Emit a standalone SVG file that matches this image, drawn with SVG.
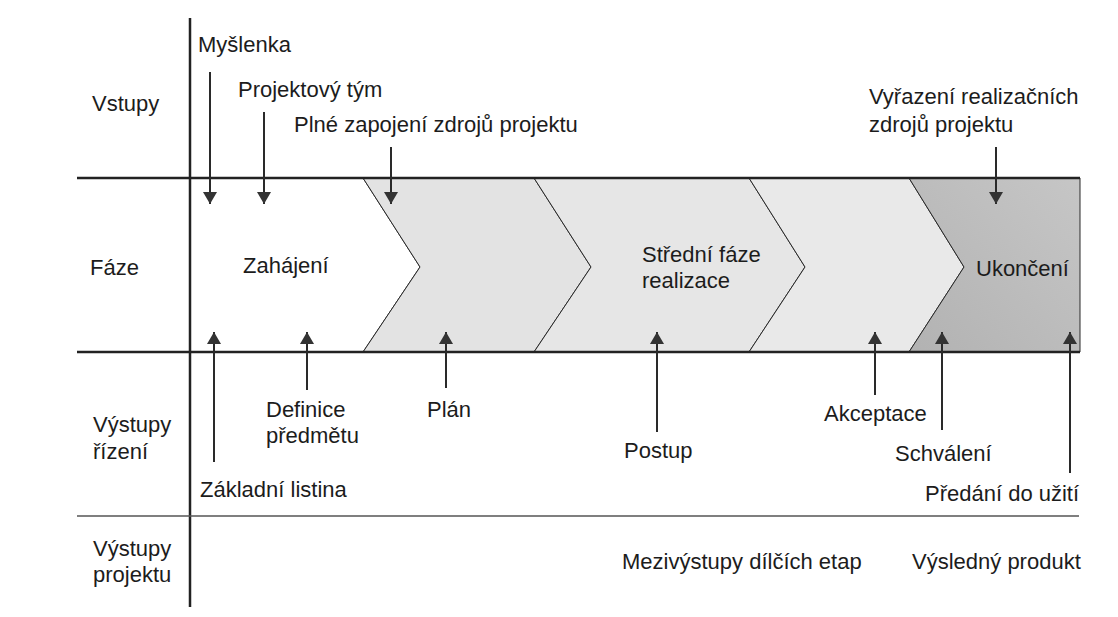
<svg xmlns="http://www.w3.org/2000/svg" width="1118" height="617" viewBox="0 0 1118 617">
<style>
text{font-family:"Liberation Sans",Arial,sans-serif;font-size:22px;fill:#1c1c1c}
.frame{stroke:#222;stroke-width:2.5;fill:none}
.thin{stroke:#555;stroke-width:1.5;fill:none}
.phase{stroke:#2a2a2a;stroke-width:1}
.arr{stroke:#2a2a2a;stroke-width:2;fill:none;marker-end:url(#ah)}
</style>
<defs>
<marker id="ah" viewBox="0 0 12 14" refX="12" refY="7" markerWidth="12" markerHeight="14" markerUnits="userSpaceOnUse" orient="auto">
<path d="M0,0 L12,7 L0,14 z" fill="#333"/>
</marker>
<linearGradient id="dark" x1="0" y1="1" x2="1" y2="0">
<stop offset="0" stop-color="#b2b2b2"/>
<stop offset="1" stop-color="#c6c6c6"/>
</linearGradient>
</defs>
<rect width="1118" height="617" fill="#ffffff"/>
<g id="phases">
<g id="phase-zahajeni">
<polygon class="phase" points="190,178 363,178 420,267 363,352 190,352" fill="#ffffff" stroke="none"/>
<text x="243" y="273">Zahájení</text>
</g>
<g id="phase-2">
<polygon class="phase" points="363,178 534,178 591,267 534,352 363,352 420,267" fill="#e3e3e3"/>
</g>
<g id="phase-stredni">
<polygon class="phase" points="534,178 749,178 805,267 749,352 534,352 591,267" fill="#e6e6e6"/>
<text x="642" y="262">Střední fáze</text>
<text x="642" y="288">realizace</text>
</g>
<g id="phase-4">
<polygon class="phase" points="749,178 909,178 964,267 909,352 749,352 805,267" fill="#e9e9e9"/>
</g>
<g id="phase-ukonceni">
<polygon class="phase" points="909,178 1080,178 1080,352 909,352 964,267" fill="url(#dark)"/>
<text x="976" y="276">Ukončení</text>
</g>
</g>
<g id="frame">
<line class="frame" x1="190" y1="18" x2="190" y2="607" stroke-width="2"/>
<line class="frame" x1="77" y1="178" x2="1080" y2="178"/>
<line class="frame" x1="77" y1="352" x2="1080" y2="352"/>
<line class="thin" x1="77" y1="516" x2="1079" y2="516"/>
</g>
<g id="row-labels">
<text x="92" y="111">Vstupy</text>
<text x="90" y="275">Fáze</text>
<text x="93" y="432">Výstupy</text>
<text x="93" y="459">řízení</text>
<text x="93" y="556">Výstupy</text>
<text x="93" y="582">projektu</text>
</g>
<g id="inputs">
<text x="198" y="52">Myšlenka</text>
<text x="238" y="97">Projektový tým</text>
<text x="294" y="132">Plné zapojení zdrojů projektu</text>
<text x="869" y="104">Vyřazení realizačních</text>
<text x="869" y="132">zdrojů projektu</text>
</g>
<g id="management-outputs">
<text x="266" y="417">Definice</text>
<text x="266" y="443">předmětu</text>
<text x="427" y="417">Plán</text>
<text x="200" y="497">Základní listina</text>
<text x="624" y="458">Postup</text>
<text x="824" y="421">Akceptace</text>
<text x="895" y="461">Schválení</text>
<text x="925" y="501">Předání do užití</text>
</g>
<g id="project-outputs">
<text x="622" y="569">Mezivýstupy dílčích etap</text>
<text x="912" y="569">Výsledný produkt</text>
</g>
<g id="connectors">
<line class="arr" x1="210" y1="72" x2="210" y2="204"/>
<line class="arr" x1="264" y1="112" x2="264" y2="204"/>
<line class="arr" x1="391" y1="147" x2="391" y2="204"/>
<line class="arr" x1="996" y1="147" x2="996" y2="204"/>
<line class="arr" x1="214" y1="462" x2="214" y2="332"/>
<line class="arr" x1="307" y1="390" x2="307" y2="332"/>
<line class="arr" x1="446" y1="388" x2="446" y2="332"/>
<line class="arr" x1="657" y1="432" x2="657" y2="332"/>
<line class="arr" x1="875" y1="395" x2="875" y2="332"/>
<line class="arr" x1="942" y1="430" x2="942" y2="332"/>
<line class="arr" x1="1070" y1="473" x2="1070" y2="332"/>
</g>
</svg>
